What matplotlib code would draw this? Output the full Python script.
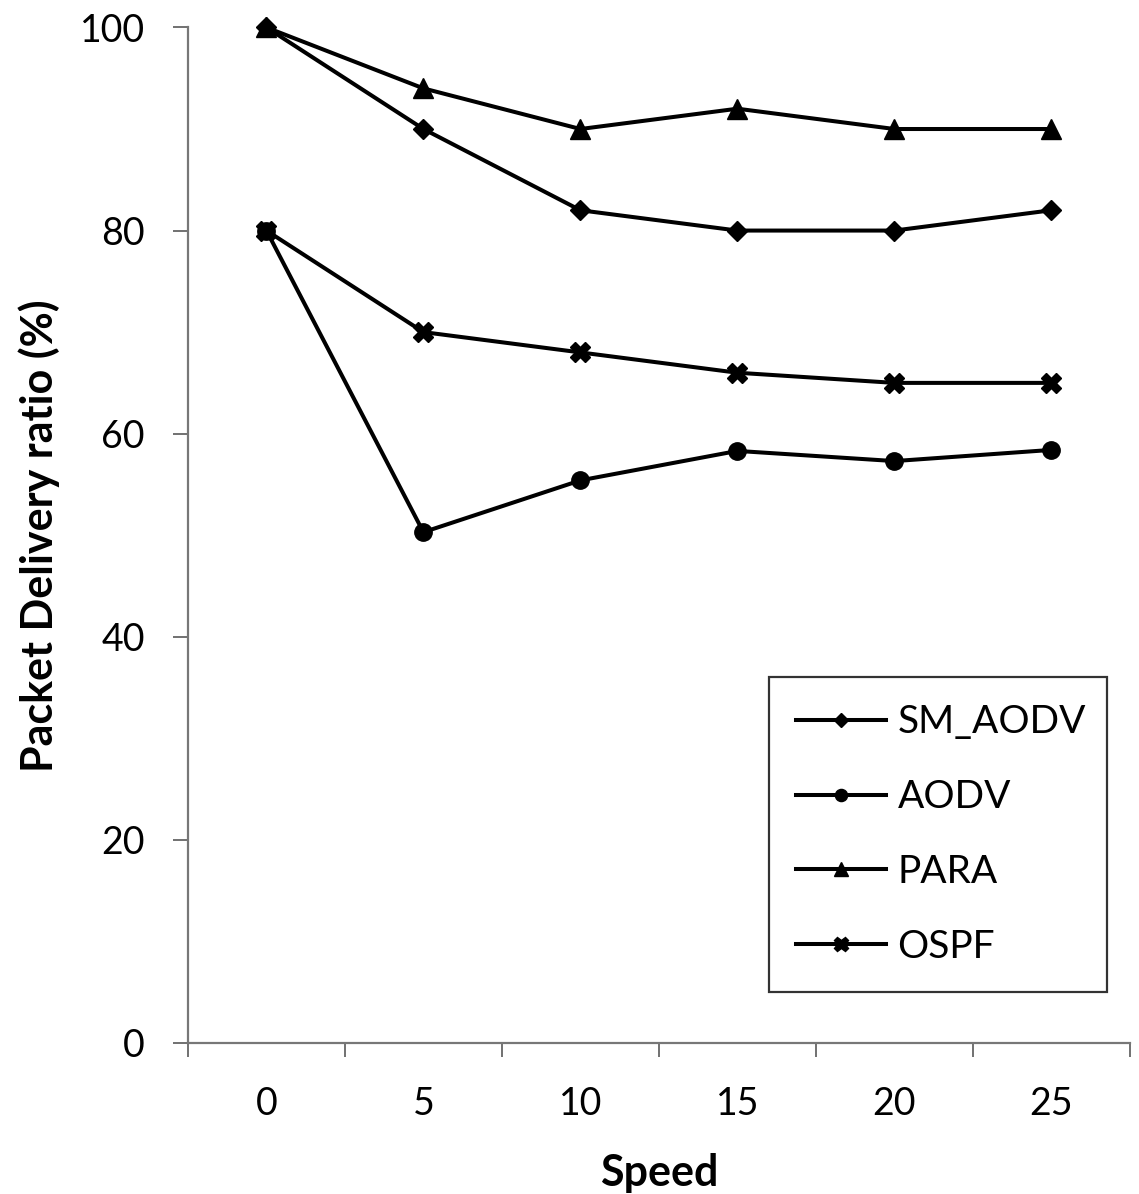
import matplotlib
matplotlib.use("Agg")
import matplotlib.pyplot as plt
import numpy as np

speeds = ["0", "5", "10", "15", "20", "25"]
sm_aodv = [100, 90, 82, 80, 80, 82]
aodv = [80, 50.3, 55.4, 58.3, 57.3, 58.4]
para = [100, 94, 90, 92, 90, 90]
ospf = [80, 70, 68, 66, 65, 65]
y_ticks = [0, 20, 40, 60, 80, 100]

fig = plt.figure(figsize=(11.39, 11.94), dpi=100)
ax = fig.add_axes([0.165, 0.1265, 0.827, 0.8505])

x = np.arange(len(speeds))
lw = 2.9
ax.plot(x, sm_aodv, color="black", lw=lw, marker="D", ms=10, label="SM_AODV", clip_on=False)
ax.plot(x, aodv, color="black", lw=lw, marker="o", ms=12.5, label="AODV", clip_on=False)
ax.plot(x, para, color="black", lw=lw, marker="^", ms=14, label="PARA", clip_on=False)
ax.plot(x, ospf, color="black", lw=lw, marker="X", ms=15, label="OSPF", clip_on=False)

ax.set_xlim(-0.5, len(speeds) - 0.5)
ax.set_ylim(0, 100)
ax.set_yticks(y_ticks)
ax.set_yticklabels([str(v) for v in y_ticks], fontfamily="Lato", fontsize=27)

ax.set_xticks(np.arange(-0.5, len(speeds), 1.0))
ax.set_xticklabels([])
ax.set_xticks(x, minor=True)
ax.set_xticklabels(speeds, minor=True, fontfamily="Lato", fontsize=27)
ax.tick_params(axis="x", which="minor", length=0, pad=31)
ax.tick_params(axis="x", which="major", direction="out", length=10, width=1.3, color="#666666")
ax.tick_params(axis="y", direction="out", length=11, width=1.3, color="#666666", pad=20)

for s in ["top", "right"]:
    ax.spines[s].set_visible(False)
for s in ["left", "bottom"]:
    ax.spines[s].set_color("#777777")
    ax.spines[s].set_linewidth(1.6)

ax.set_ylabel("Packet Delivery ratio (%)", fontfamily="Lato", fontweight="bold", fontsize=31, labelpad=14)
ax.set_xlabel("Speed", fontfamily="Lato", fontweight="bold", fontsize=31, labelpad=22)

leg = ax.legend(loc="lower left", bbox_to_anchor=(0.617, 0.05, 0.359, 0.313), mode="expand",
                prop={"family": "Lato", "size": 28}, frameon=True, fancybox=False,
                handlelength=2.3, handletextpad=0.3, labelspacing=1.0, borderpad=0.7,
                markerscale=0.7, borderaxespad=0)
leg.get_frame().set_edgecolor("black")
leg.get_frame().set_linewidth(1.6)

fig.savefig("out.png", dpi=100)
